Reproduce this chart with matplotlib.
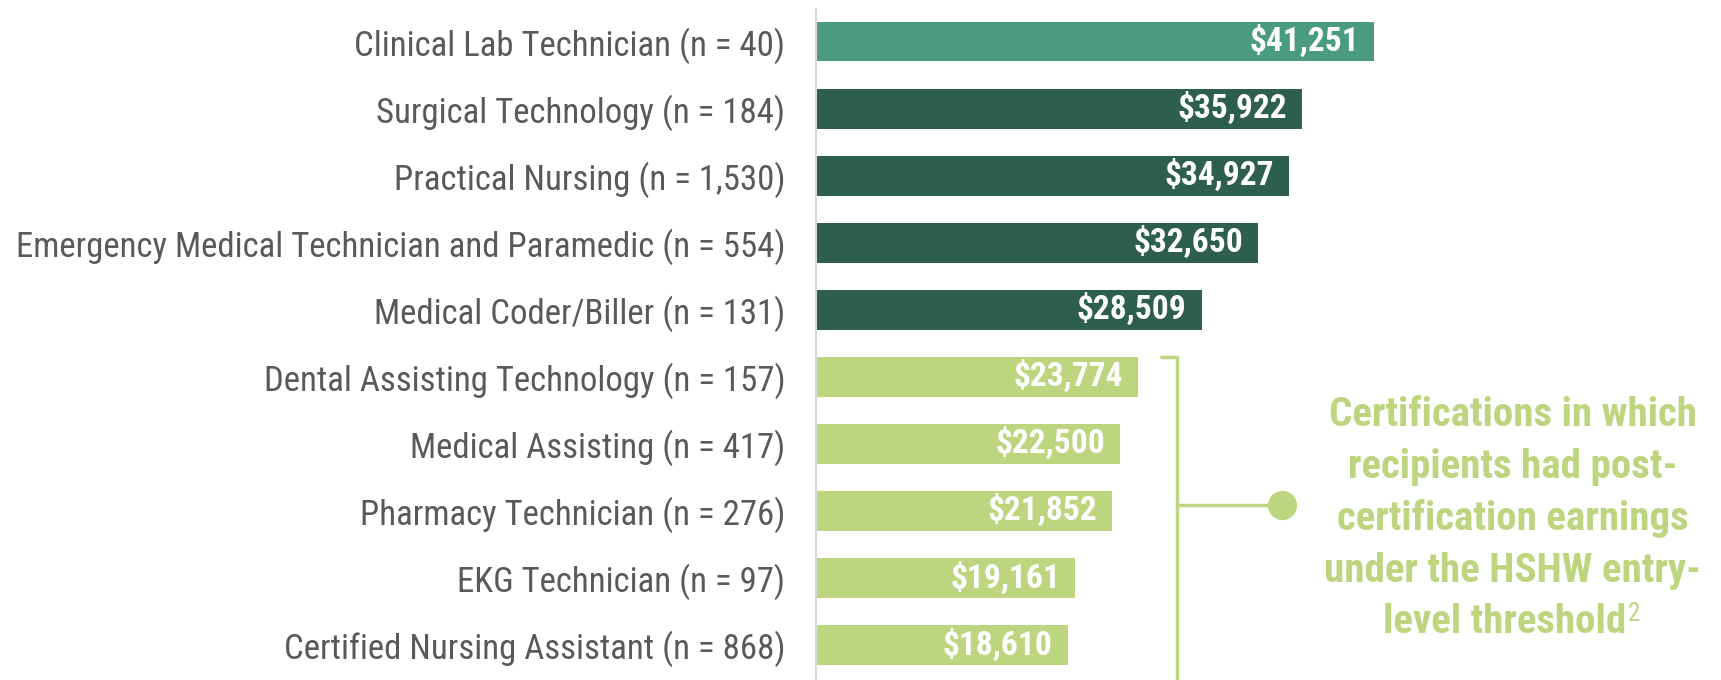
import matplotlib.pyplot as plt

# data
programs = [
    "Clinical Lab Technician (n = 40)",
    "Surgical Technology (n = 184)",
    "Practical Nursing (n = 1,530)",
    "Emergency Medical Technician and Paramedic (n = 554)",
    "Medical Coder/Biller (n = 131)",
    "Dental Assisting Technology (n = 157)",
    "Medical Assisting (n = 417)",
    "Pharmacy Technician (n = 276)",
    "EKG Technician (n = 97)",
    "Certified Nursing Assistant (n = 868)",
]
earnings = [41251, 35922, 34927, 32650, 28509, 23774, 22500, 21852, 19161, 18610]
bar_colors = ["#4b9b81"] + ["#2d5e4e"] * 4 + ["#bdd57f"] * 5

note_lines = ["Certifications in which", "recipients had post-",
              "certification earnings", "under the HSHW entry-",
              "level threshold"]

plt.rcParams['font.family'] = ['Roboto Condensed', 'DejaVu Sans']

light = "#bdd57f"
W, H = 1721, 680
fig = plt.figure(figsize=(W / 100, H / 100), dpi=100)
ax = fig.add_axes([816 / W, 0, 1 - 816 / W, 1])

px = 0.01353          # pixels per dollar
step = 67.0           # pixels between bars
first = 41.7          # centre of first bar from top
ypos = list(range(len(programs)))
ax.barh(ypos, earnings, height=0.59, color=bar_colors)
ax.set_xlim(0, (W - 816) / px)
ax.set_ylim(9 + (H - 645) / step, -first / step)

for y, v in zip(ypos, earnings):
    ax.text(v - 15 / px, y, f"${v:,}", ha='right', va='center',
            color='white', fontsize=24, fontweight='bold')

ax.set_yticks(ypos)
ax.set_yticklabels(programs, fontsize=25, color='#595959')
ax.tick_params(axis='y', length=0, pad=22)
ax.tick_params(axis='x', bottom=False, labelbottom=False)
for lab in ax.get_yticklabels():
    lab.set_y(lab.get_position()[1])
    lab.set_verticalalignment('center_baseline')
for s in ['top', 'right', 'bottom']:
    ax.spines[s].set_visible(False)
ax.spines['left'].set_color('#d9d9d9')
ax.spines['left'].set_linewidth(1.5)
ax.spines['left'].set_bounds(9 + (H - 645) / step, (9 - first) / step)

# bracket around the low-earning group
def dx(p):
    return (p - 816) / px

def dy(p):
    return (p - first) / step

bx = dx(1177)
ax.plot([dx(1160), bx, bx], [dy(357), dy(357), dy(680)], color=light, lw=2.5,
        clip_on=False, solid_capstyle='butt')
ax.plot([bx, dx(1282)], [dy(505), dy(505)], color=light, lw=2.5, clip_on=False)
ax.plot([dx(1282)], [dy(505)], 'o', ms=20, color=light, clip_on=False)

cx = dx(1513)
for i, line in enumerate(note_lines):
    yy = dy(415 + i * 51.75)
    t = ax.text(cx if i < 4 else cx - 8 / px, yy, line, ha='center', va='center',
                color=light, fontsize=29.5, fontweight='bold')
ax.annotate("2", xy=(1, 1), xycoords=t, xytext=(1, 1), textcoords='offset points',
            ha='left', va='top', color=light, fontsize=18)

fig.savefig("out.png", dpi=100)
